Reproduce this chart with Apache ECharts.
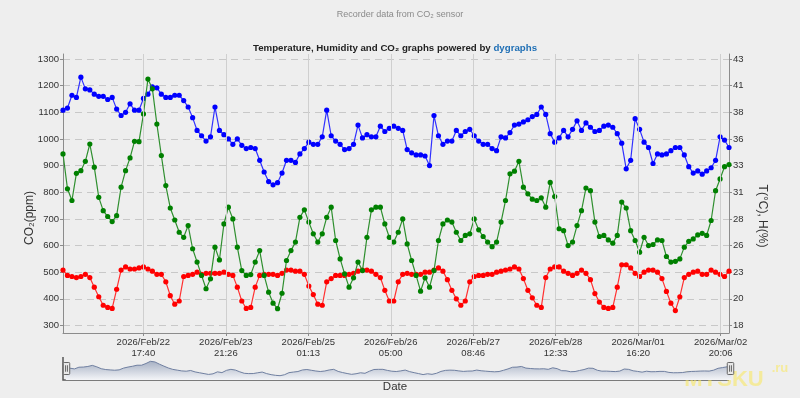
<!DOCTYPE html>
<html>
<head>
<meta charset="utf-8">
<script src="https://cdn.jsdelivr.net/npm/echarts@6/dist/echarts.min.js"></script>
<style>
  html, body { margin: 0; padding: 0; background: #eeeeee; }
  #chart { width: 800px; height: 398px; }
</style>
</head>
<body>
<div id="chart"></div>
<script>
// sampling: first and last reading, evenly spaced readings in between
const startTime = Date.UTC(2026, 1, 21, 14, 37, 35);
const endTime = Date.UTC(2026, 2, 2, 22, 54, 22);

// CO2, ppm (left axis)
const co2 = [
  944, 813, 769, 871, 881, 916, 981, 894, 781, 731, 709, 690, 712, 819, 881, 929, 991, 990, 1094, 1225,
  1188, 1056, 938, 825, 741, 696, 650, 631, 675, 588, 538, 488, 438, 475, 594, 546, 681, 744, 700, 594,
  506, 488, 491, 538, 581, 488, 425, 384, 363, 421, 544, 581, 613, 706, 734, 688, 644, 613, 644, 706,
  744, 619, 550, 494, 444, 479, 538, 506, 631, 734, 744, 744, 681, 631, 613, 650, 700, 606, 544, 488,
  429, 479, 444, 506, 619, 681, 696, 688, 650, 619, 638, 644, 700, 659, 634, 613, 596, 613, 688, 769,
  869, 879, 916, 819, 794, 774, 769, 779, 744, 837, 784, 663, 656, 600, 613, 675, 731, 816, 806, 688,
  634, 638, 621, 609, 638, 763, 741, 656, 619, 575, 631, 600, 604, 621, 619, 559, 538, 541, 550, 594,
  616, 625, 640, 646, 638, 694, 806, 850, 896, 904
];

// humidity, % (right axis)
const humidity = [
  38.2, 38.4, 39.6, 39.4, 41.3, 40.2, 40.1, 39.7, 39.5, 39.5, 39.2, 39.4, 38.3, 37.7, 38.0, 38.8, 38.2, 38.2, 39.3, 39.7,
  40.4, 40.3, 39.7, 39.4, 39.4, 39.6, 39.6, 39.1, 38.5, 37.5, 36.3, 35.8, 35.3, 35.7, 38.5, 36.3, 35.9, 35.5, 35.0, 35.5,
  34.9, 34.6, 34.7, 34.6, 33.5, 32.4, 31.5, 31.2, 31.4, 32.3, 33.5, 33.5, 33.3, 34.1, 34.6, 35.2, 35.0, 35.0, 35.7, 38.2,
  35.8, 35.3, 35.0, 34.5, 34.6, 35.0, 36.8, 35.6, 35.9, 35.7, 35.7, 36.7, 36.2, 36.5, 36.7, 36.5, 36.3, 34.5, 34.2, 34.0,
  34.0, 33.9, 33.0, 37.7, 35.8, 35.0, 35.3, 35.3, 36.3, 35.8, 36.2, 36.4, 35.8, 35.3, 35.0, 35.0, 34.6, 34.4, 35.7, 35.6,
  36.1, 36.8, 36.9, 37.1, 37.3, 37.6, 37.8, 38.5, 37.8, 36.0, 35.2, 35.6, 36.3, 35.7, 36.4, 37.2, 36.3, 37.0, 36.6, 36.2,
  36.3, 36.7, 36.8, 36.6, 36.0, 35.1, 32.7, 33.5, 37.4, 36.4, 35.2, 34.7, 33.2, 34.1, 34.0, 34.1, 34.4, 34.7, 34.7, 34.0,
  32.9, 32.3, 32.5, 32.2, 32.5, 32.8, 33.5, 35.7, 35.4, 34.7
];

// temperature, °C (right axis)
const temperature = [
  23.2, 22.7, 22.6, 22.5, 22.6, 22.8, 22.5, 21.6, 20.7, 19.9, 19.7, 19.6, 21.4, 23.2, 23.5, 23.3, 23.3, 23.4, 23.5, 23.3,
  23.1, 22.8, 22.8, 22.1, 20.8, 20.0, 20.3, 22.6, 22.7, 22.8, 23.0, 22.8, 22.9, 22.9, 22.9, 22.9, 23.0, 22.8, 22.7, 21.6,
  20.3, 19.6, 19.7, 21.6, 22.7, 22.8, 22.8, 22.8, 22.7, 22.9, 23.2, 23.2, 23.1, 23.1, 22.8, 21.7, 20.9, 20.0, 19.9, 22.1,
  22.4, 22.7, 22.7, 22.7, 22.8, 22.9, 23.1, 23.2, 23.2, 23.1, 22.8, 22.5, 21.3, 20.3, 20.3, 22.1, 22.8, 22.9, 22.8, 22.8,
  22.8, 23.0, 23.0, 23.2, 23.4, 23.1, 22.3, 21.3, 20.5, 19.9, 20.3, 22.1, 22.6, 22.7, 22.7, 22.8, 22.8, 23.0, 23.1, 23.2,
  23.3, 23.5, 23.3, 22.4, 21.3, 20.6, 19.9, 19.7, 22.5, 23.3, 23.5, 23.5, 23.1, 22.9, 22.7, 22.9, 23.2, 22.9, 22.3, 21.0,
  20.2, 19.7, 19.6, 19.7, 21.6, 23.7, 23.7, 23.4, 22.9, 22.6, 23.0, 23.2, 23.2, 23.0, 22.4, 21.2, 20.1, 19.4, 20.7, 22.5,
  22.8, 23.0, 23.1, 22.8, 22.8, 23.2, 23.0, 22.8, 22.6, 23.1
];

const xTickTimes = [
  '2026-02-22T17:40:00Z', '2026-02-23T21:26:40Z', '2026-02-25T01:13:20Z', '2026-02-26T05:00:00Z',
  '2026-02-27T08:46:40Z', '2026-02-28T12:33:20Z', '2026-03-01T16:20:00Z', '2026-03-02T20:06:40Z'
];
const xTickLabels = [
  '2026/Feb/22\n17:40', '2026/Feb/23\n21:26', '2026/Feb/25\n01:13', '2026/Feb/26\n05:00',
  '2026/Feb/27\n08:46', '2026/Feb/28\n12:33', '2026/Mar/01\n16:20', '2026/Mar/02\n20:06'
];
const leftTicks = [300, 400, 500, 600, 700, 800, 900, 1000, 1100, 1200, 1300];
const rightTicks = [18, 20.5, 23, 25.5, 28, 30.5, 33, 35.5, 38, 40.5, 43];
const rightTickLabels = ['18', '20', '23', '26', '28', '31', '33', '36', '38', '41', '43'];

const step = (endTime - startTime) / (co2.length - 1);
const times = co2.map((_, i) => startTime + i * step);
const xTickValues = xTickTimes.map(t => Date.parse(t));
const pair = arr => arr.map((v, i) => [times[i], v]);

const font = 'Liberation Sans, Arial, sans-serif';
const chart = echarts.init(document.getElementById('chart'));

const shadowFill = {
  opacity: 1,
  color: { type: 'linear', x: 0, y: 0, x2: 0, y2: 1,
    colorStops: [{ offset: 0, color: '#f4f5f8' }, { offset: 1, color: '#a7b1c4' }] }
};

chart.setOption({
  backgroundColor: '#eeeeee',
  animation: false,
  textStyle: { fontFamily: font },
  title: [
    {
      text: 'Recorder data from CO₂ sensor',
      left: 'center',
      top: 5,
      textStyle: { fontSize: 9, fontWeight: 'normal', color: '#8a8a8a', fontFamily: font }
    },
    {
      text: '{a|Temperature, Humidity and CO₂ graphs powered by }{b|dygraphs}',
      left: 390,
      textAlign: 'center',
      top: 38,
      textStyle: {
        rich: {
          a: { fontSize: 9.7, fontWeight: 'bold', color: '#222', fontFamily: font },
          b: { fontSize: 9.7, fontWeight: 'bold', color: '#1f6fb5', fontFamily: font }
        }
      }
    }
  ],
  grid: { left: 63, right: 71, top: 54, bottom: 65 },
  xAxis: {
    type: 'value',
    min: startTime,
    max: endTime,
    z: 5,
    axisLine: { lineStyle: { color: '#8c8c8c', width: 1 } },
    axisTick: { customValues: xTickValues, length: 3, lineStyle: { color: '#8c8c8c' } },
    axisLabel: {
      customValues: xTickValues,
      margin: 4,
      fontSize: 9.5,
      lineHeight: 11,
      color: '#333',
      formatter: v => xTickLabels[xTickValues.indexOf(v)] || ''
    },
    splitLine: { show: true, lineStyle: { color: '#cfcfcf', width: 1 } }
  },
  yAxis: [
    {
      type: 'value',
      min: 271.9,
      max: 1318.8,
      axisLine: { show: true, lineStyle: { color: '#8c8c8c', width: 1 } },
      axisTick: { show: true, customValues: leftTicks, length: 3, lineStyle: { color: '#8c8c8c' } },
      axisLabel: { customValues: leftTicks, margin: 4, fontSize: 9.5, color: '#333', formatter: v => String(v) },
      splitLine: { show: true, lineStyle: { color: '#c8c8c8', type: [7, 5] } }
    },
    {
      type: 'value',
      position: 'right',
      min: 17.2975,
      max: 43.47,
      axisLine: { show: true, lineStyle: { color: '#8c8c8c', width: 1 } },
      axisTick: { show: true, customValues: rightTicks, length: 3, lineStyle: { color: '#8c8c8c' } },
      axisLabel: {
        customValues: rightTicks,
        margin: 4,
        fontSize: 9.5,
        color: '#333',
        formatter: v => rightTickLabels[rightTicks.indexOf(v)] || ''
      },
      splitLine: { show: false }
    }
  ],
  dataZoom: [{
    type: 'slider',
    xAxisIndex: 0,
    filterMode: 'none',
    start: 0,
    end: 100,
    left: 63,
    right: 71,
    top: 357,
    height: 23,
    showDetail: false,
    brushSelect: false,
    moveHandleSize: 0,
    backgroundColor: 'rgba(0,0,0,0)',
    borderColor: 'rgba(0,0,0,0)',
    fillerColor: 'rgba(0,0,0,0)',
    handleIcon: 'path://M1,0 L6,0 Q7,0 7,1 L7,12 Q7,13 6,13 L1,13 Q0,13 0,12 L0,1 Q0,0 1,0 Z M2.5,3 L2.5,10 M4.5,3 L4.5,10',
    handleSize: 12,
    handleStyle: { color: '#e8e8e8', borderColor: '#666', borderWidth: 1 },
    dataBackground: { lineStyle: { color: '#6f7fa0', width: 1, opacity: 1 }, areaStyle: shadowFill },
    selectedDataBackground: { lineStyle: { color: '#6f7fa0', width: 1, opacity: 1 }, areaStyle: shadowFill }
  }],
  series: [
    {
      name: 'CO2',
      type: 'line',
      yAxisIndex: 0,
      z: 4,
      data: pair(co2),
      symbol: 'circle',
      symbolSize: 5.2,
      color: '#008000',
      lineStyle: { width: 1.2, color: '#2f8f2f' }
    },
    {
      name: 'H',
      type: 'line',
      yAxisIndex: 1,
      z: 3,
      data: pair(humidity),
      symbol: 'circle',
      symbolSize: 5.2,
      color: '#0000ff',
      lineStyle: { width: 1.2, color: '#3030ff' }
    },
    {
      name: 'T',
      type: 'line',
      yAxisIndex: 1,
      z: 2,
      data: pair(temperature),
      symbol: 'circle',
      symbolSize: 5.2,
      color: '#ff0000',
      lineStyle: { width: 1.2, color: '#ff3030' }
    }
  ],
  graphic: [
    { type: 'text', x: 30, y: 218, rotation: Math.PI / 2,
      style: { text: 'CO₂(ppm)', fontSize: 12, fill: '#333', fontFamily: font, align: 'center', verticalAlign: 'middle' } },
    { type: 'text', x: 762, y: 216, rotation: -Math.PI / 2,
      style: { text: 'T(°C), H(%)', fontSize: 12, fill: '#333', fontFamily: font, align: 'center', verticalAlign: 'middle' } },
    { type: 'text', x: 395, y: 387,
      style: { text: 'Date', fontSize: 11.5, fill: '#333', fontFamily: font, align: 'center', verticalAlign: 'middle' } },
    { type: 'polyline', shape: { points: [[63, 357], [63, 380], [729, 380]] },
      style: { stroke: '#555', lineWidth: 1.5, fill: null } },
    { type: 'text', x: 724, y: 380,
      style: { text: 'MYSKU', fontSize: 22, fontWeight: 'bold', fill: 'rgba(250,232,90,0.55)', fontFamily: font, align: 'center', verticalAlign: 'middle' } },
    { type: 'text', x: 780, y: 368,
      style: { text: '.ru', fontSize: 13, fontWeight: 'bold', fill: 'rgba(250,232,90,0.55)', fontFamily: font, align: 'center', verticalAlign: 'middle' } }
  ]
});
</script>
</body>
</html>
